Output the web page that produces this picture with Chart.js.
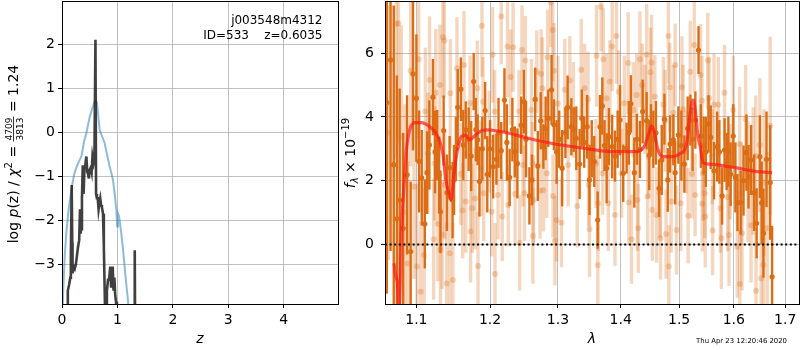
<!DOCTYPE html>
<html>
<head>
<meta charset="utf-8">
<script src="https://cdn.jsdelivr.net/npm/chart.js@4/dist/chart.umd.min.js"></script>
<style>
html, body { margin: 0; padding: 0; background: #fff; }
#wrap { position: relative; width: 800px; height: 350px; }
#pz { position: absolute; left: 0; top: 0; }
#spec { position: absolute; left: 340px; top: 0; }
</style>
</head>
<body>
<div id="wrap">
  <canvas id="pz" width="340" height="350"></canvas>
  <canvas id="spec" width="460" height="350"></canvas>
</div>
<script>
// ---- left panel: log p(z) ----
const zTicks = [0, 1, 2, 3, 4];
const lnpTicks = [-3, -2, -1, 0, 1, 2];

// black: log p(z)
const pzZ = [0.100,0.105,0.130,0.150,0.160,0.175,0.185,0.190,0.210,0.230,
  0.250,0.270,0.290,0.310,0.325,0.335,0.345,0.360,0.375,0.390,
  0.405,0.420,0.440,0.455,0.470,0.485,0.500,0.520,0.535,0.550,
  0.570,0.585,0.6035,0.615,0.630,0.645,0.660,0.675,0.690,0.705,
  0.720,0.740,0.755,0.770,0.785,0.800,0.810,0.830,0.850,0.870,
  0.885,0.900,0.915,0.930,0.945,0.960,0.975,0.990,1.300,1.310,
  1.315,1.320,1.330];
const pzLnp = [-4.5,-3.6,-3.45,-3.3,-2.8,-1.2,-2.5,-3.2,-3.05,-3.1,
  -3.0,-2.8,-2.6,-2.45,-1.75,-2.3,-2.2,-1.5,-0.75,-1.4,
  -0.8,-0.75,-0.55,-0.9,-0.95,-1.05,-0.85,-0.8,-0.9,-0.55,
  -0.7,-0.6,2.1,-1.4,-1.5,-1.5,-1.75,-1.6,-1.5,-1.65,
  -1.7,-1.85,-2.6,-3.6,-4.5,-4.5,-3.6,-3.35,-3.35,-3.05,
  -3.5,-3.3,-3.05,-3.6,-3.3,-3.7,-3.85,-4.5,-4.5,-4.5,
  -2.68,-4.5,-4.5];

// blue: chi2 curve
const chiZ = [0.0,0.02,0.05,0.08,0.12,0.17,0.22,0.26,0.31,0.35,
  0.40,0.44,0.50,0.55,0.59,0.63,0.66,0.68,0.73,0.77,
  0.82,0.86,0.92,0.96,0.98,0.995,1.01,1.03,1.07,1.10,
  1.13,1.16,1.19,1.22];
const chiVal = [-4.6,-3.66,-2.8,-2.25,-1.75,-1.3,-0.95,-0.8,-0.65,-0.55,
  -0.2,-0.02,0.35,0.55,0.70,0.68,0.3,0.05,-0.12,-0.25,
  -0.55,-0.78,-1.08,-1.5,-1.75,-2.14,-1.84,-1.9,-2.3,-2.65,
  -3.05,-3.45,-3.81,-4.4];

// ---- right panel: spectrum ----
const lamTicks = [1.1, 1.2, 1.3, 1.4, 1.5, 1.6, 1.7];
const fluxTicks = [0, 2, 4, 6];

const darkLam = [1.0623,1.0670,1.0710,1.0750,1.0785,1.0830,1.0880,1.0926,1.0956,1.1000,
  1.1035,1.1070,1.1110,1.1140,1.1170,1.1217,1.1245,1.1274,1.1300,1.1317,
  1.1360,1.1404,1.1440,1.1480,1.1500,1.1525,1.1550,1.1593,1.1626,1.1660,
  1.1700,1.1735,1.1770,1.1800,1.1825,1.1850,1.1890,1.1930,1.1960,1.2000,
  1.2043,1.2090,1.2120,1.2159,1.2205,1.2240,1.2280,1.2320,1.2355,1.2393,
  1.2449,1.2488,1.2520,1.2570,1.2607,1.2656,1.2695,1.2739,1.2779,1.2813,
  1.2853,1.2903,1.2939,1.2980,1.3020,1.3065,1.3116,1.3150,1.3208,1.3245,
  1.3285,1.3338,1.3373,1.3410,1.3457,1.3494,1.3530,1.3570,1.3625,1.3662,
  1.3700,1.3735,1.3770,1.3807,1.3860,1.3906,1.3950,1.3990,1.4042,1.4098,
  1.4135,1.4170,1.4227,1.4270,1.4322,1.4368,1.4436,1.4480,1.4510,1.4550,
  1.4595,1.4649,1.4695,1.4742,1.4800,1.4840,1.4898,1.4930,1.4986,1.5040,
  1.5093,1.5152,1.5200,1.5240,1.5290,1.5347,1.5390,1.5440,1.5480,1.5529,
  1.5570,1.5631,1.5689,1.5730,1.5780,1.5826,1.5865,1.5898,1.5940,1.5990,
  1.6030,1.6070,1.6130,1.6185,1.6240,1.6280,1.6330,1.6390,1.6437,1.6500,
  1.6535,1.6570,1.6630,1.6702,1.6740];
const darkFlux = [4.45,5.79,2.50,0.80,1.39,0.50,2.18,-0.23,5.35,4.59,
  2.60,2.09,0.64,2.25,3.12,4.62,2.90,3.12,2.18,1.02,
  3.57,1.62,2.40,1.39,2.02,3.00,4.30,4.87,3.12,3.59,
  3.30,2.77,5.11,3.60,3.28,1.97,3.00,4.20,2.20,3.00,
  2.44,2.67,3.50,2.94,4.53,3.20,2.10,3.60,2.90,2.54,
  3.74,4.48,3.30,1.52,2.02,4.55,2.46,3.88,3.07,3.64,
  3.96,4.85,3.75,2.90,3.30,2.39,3.51,4.30,3.69,3.60,
  3.33,2.52,3.96,3.20,3.69,2.02,3.00,2.60,0.76,3.69,
  4.34,3.10,2.39,3.38,3.07,2.77,3.30,3.90,2.23,3.02,
  3.50,4.41,2.25,3.30,2.98,4.17,3.88,2.80,3.60,3.30,
  3.50,1.76,2.65,3.93,2.02,3.15,3.28,2.25,3.43,3.10,
  2.52,3.64,3.90,3.30,3.90,6.10,3.40,3.10,2.90,3.78,
  3.36,2.31,3.07,2.90,1.52,2.96,2.60,2.91,2.20,3.40,
  2.10,1.31,1.31,2.00,2.88,2.12,2.65,1.62,0.66,2.75,
  1.30,0.35,2.67,1.94,-1.02];
const darkErr = [6.0,6.0,5.0,4.5,3.5,3.0,2.5,2.2,2.4,2.0,
  1.6,1.5,1.4,1.3,1.4,1.2,1.3,1.1,1.2,1.3,
  1.1,1.2,1.0,1.2,1.1,1.0,1.2,1.0,1.1,0.9,
  1.0,1.1,0.9,1.0,0.8,1.1,1.0,0.9,1.2,0.9,
  1.0,0.8,1.1,0.9,1.0,1.2,0.9,1.0,0.8,1.1,
  0.9,1.0,1.2,0.9,0.8,1.0,1.1,0.9,0.7,1.0,
  0.9,1.1,0.8,1.0,0.9,1.2,0.8,1.0,0.9,0.7,
  1.0,1.1,0.9,0.8,1.0,1.1,0.9,0.8,0.9,1.0,
  0.9,0.8,1.1,0.9,1.0,0.8,0.9,1.1,0.9,0.8,
  1.0,0.9,1.1,0.8,0.9,1.0,0.9,1.1,0.8,0.9,
  1.0,0.9,1.1,0.8,1.0,0.9,0.8,1.0,0.9,1.1,
  0.9,1.0,0.8,1.0,0.9,0.75,1.0,0.9,1.1,0.9,
  1.0,0.9,1.1,1.0,0.9,1.0,0.9,1.1,1.0,1.0,
  1.1,0.9,1.0,1.1,1.2,1.0,1.1,1.2,1.1,1.3,
  1.3,1.4,1.5,1.8,1.6];

const lightLam = [1.0640,1.0743,1.0770,1.0806,1.0850,1.0890,1.0926,1.0970,1.1008,1.1030,
  1.1056,1.1100,1.1117,1.1150,1.1173,1.1227,1.1240,1.1255,1.1283,1.1310,
  1.1317,1.1340,1.1349,1.1370,1.1375,1.1400,1.1443,1.1450,1.1485,1.1540,
  1.1593,1.1617,1.1636,1.1660,1.1720,1.1727,1.1750,1.1790,1.1820,1.1830,
  1.1870,1.1885,1.1900,1.1910,1.1988,1.2022,1.2035,1.2065,1.2070,1.2113,
  1.2159,1.2173,1.2249,1.2260,1.2295,1.2330,1.2360,1.2418,1.2427,1.2460,
  1.2475,1.2497,1.2510,1.2600,1.2615,1.2622,1.2630,1.2680,1.2729,1.2745,
  1.2765,1.2780,1.2830,1.2843,1.2890,1.2920,1.2925,1.2940,1.2954,1.2980,
  1.3000,1.3054,1.3107,1.3158,1.3184,1.3240,1.3300,1.3363,1.3416,1.3470,
  1.3480,1.3494,1.3596,1.3607,1.3627,1.3635,1.3680,1.3706,1.3716,1.3770,
  1.3797,1.3823,1.3860,1.3906,1.3930,1.3966,1.4015,1.4060,1.4124,1.4135,
  1.4180,1.4211,1.4266,1.4280,1.4293,1.4322,1.4360,1.4407,1.4436,1.4452,
  1.4470,1.4500,1.4520,1.4532,1.4577,1.4604,1.4660,1.4675,1.4724,1.4755,
  1.4770,1.4811,1.4820,1.4835,1.4860,1.4898,1.4930,1.4955,1.5030,1.5050,
  1.5070,1.5120,1.5160,1.5198,1.5227,1.5270,1.5285,1.5383,1.5410,1.5415,
  1.5430,1.5460,1.5470,1.5516,1.5540,1.5600,1.5605,1.5631,1.5710,1.5750,
  1.5768,1.5826,1.5886,1.5910,1.5930,1.5990,1.6066,1.6110,1.6115,1.6140,
  1.6155,1.6225,1.6270,1.6330,1.6370,1.6420,1.6425,1.6500,1.6525,1.6570,
  1.6580,1.6643,1.6702];
const lightFlux = [3.50,6.92,6.94,3.38,1.00,-0.60,5.45,1.81,-0.70,5.81,
  -1.49,-0.34,4.17,2.86,5.16,0.16,2.54,4.76,0.64,5.00,
  -0.16,0.30,6.50,6.40,1.86,-1.23,-0.28,4.74,-1.12,5.53,
  2.21,1.06,5.63,1.34,4.43,0.40,1.13,1.44,4.90,-0.68,
  2.39,6.86,4.48,1.60,3.22,1.02,5.95,4.17,-0.93,1.55,
  7.15,0.87,6.21,1.23,5.25,6.19,1.58,4.17,0.05,6.10,
  2.49,1.60,5.77,4.22,2.54,0.26,1.39,5.42,1.68,5.35,
  4.90,1.70,2.23,5.87,7.59,6.73,1.52,5.45,0.11,0.76,
  4.41,0.68,4.85,2.49,5.14,4.22,1.20,5.48,4.90,4.55,
  1.86,0.47,2.54,5.92,-0.65,1.29,7.46,2.23,5.81,4.59,
  1.29,5.11,6.21,0.92,6.54,4.79,2.23,4.43,5.69,1.31,
  0.16,4.22,4.69,1.39,0.50,5.81,5.00,4.24,5.95,1.50,
  2.75,5.40,5.71,1.08,4.64,0.92,1.60,0.19,4.38,3.88,
  0.32,6.54,-0.70,4.93,1.34,4.13,5.63,0.45,1.29,4.93,
  4.24,2.90,0.90,5.42,2.21,6.26,1.55,5.32,4.51,1.27,
  2.23,1.60,0.87,5.77,4.59,2.75,0.43,4.38,4.38,1.13,
  0.19,4.76,1.48,0.29,2.28,4.22,-0.08,3.15,-1.25,1.60,
  0.35,3.93,1.97,0.60,2.30,2.77,-1.46,3.12,-1.07,-0.65,
  1.94,0.50,3.72];
const lightErr = [4.0,4.2,3.8,3.5,3.4,3.2,3.0,2.9,2.6,2.5,
  2.2,2.1,2.0,1.9,2.0,1.9,1.8,2.0,1.8,1.9,
  1.8,1.7,1.9,1.8,1.7,1.9,1.8,1.7,1.8,1.6,
  1.6,1.5,1.7,1.6,1.5,1.6,1.4,1.6,1.5,1.7,
  1.5,1.6,1.4,1.5,1.6,1.4,1.5,1.3,1.6,1.4,
  1.5,1.4,1.6,1.3,1.5,1.4,1.6,1.3,1.5,1.4,
  1.3,1.5,1.4,1.6,1.3,1.5,1.4,1.3,1.5,1.4,
  1.6,1.3,1.4,1.5,1.4,1.6,1.3,1.5,1.4,1.3,
  1.5,1.4,1.6,1.3,1.4,1.5,1.3,1.6,1.4,1.5,
  1.3,1.5,1.4,1.6,1.3,1.5,1.4,1.3,1.6,1.4,
  1.5,1.3,1.4,1.6,1.5,1.3,1.4,1.5,1.6,1.3,
  1.4,1.5,1.3,1.6,1.4,1.5,1.3,1.4,1.6,1.5,
  1.3,1.4,1.5,1.6,1.3,1.5,1.4,1.3,1.5,1.6,
  1.4,1.5,1.3,1.4,1.6,1.5,1.3,1.4,1.5,1.6,
  1.4,1.3,1.5,1.6,1.4,1.5,1.3,1.6,1.4,1.5,
  1.5,1.4,1.6,1.5,1.3,1.5,1.4,1.6,1.5,1.4,
  1.6,1.5,1.7,1.6,1.5,1.7,1.6,1.8,1.7,1.6,
  1.8,1.7,1.9,1.8,2.0,1.9,2.0,2.1,2.2,2.1,
  2.3,2.4,2.8];

// best-fit model (red)
const modelLam = [1.0713,1.0735,1.0756,1.0765,1.0775,1.0785,1.0807,1.0840,1.0871,1.0913,
  1.0978,1.1065,1.1173,1.1283,1.1348,1.1390,1.1443,1.1460,1.1500,1.1547,
  1.1600,1.1660,1.1717,1.1770,1.1857,1.1950,1.2228,1.2460,1.2705,1.2950,
  1.3208,1.3520,1.3856,1.4124,1.4266,1.4407,1.4474,1.4520,1.4566,1.4630,
  1.4724,1.4868,1.5012,1.5134,1.5188,1.5247,1.5270,1.5347,1.5380,1.5430,
  1.5540,1.5716,1.5890,1.6085,1.6270,1.6450,1.6740];
const modelFlux = [-0.60,-1.00,-1.23,-1.60,-2.10,-1.90,0.35,1.81,2.96,3.59,
  3.82,3.82,3.69,3.38,2.86,2.02,1.50,1.40,2.23,2.96,
  3.38,3.43,3.28,3.38,3.54,3.59,3.51,3.38,3.25,3.15,
  3.07,2.98,2.91,2.91,2.91,3.12,3.49,3.72,3.54,2.96,
  2.75,2.75,2.84,3.17,4.01,4.53,4.45,3.28,3.07,2.56,
  2.52,2.49,2.44,2.39,2.33,2.28,2.25];

// ---- styling ----
const FONT = "'DejaVu Sans', sans-serif";
const GRID = '#b0b0b0';
const ORANGE = '#dc6d14';
const ORANGE_LIGHT = 'rgba(217,105,15,0.27)';

Chart.defaults.font.family = FONT;
Chart.defaults.color = '#000';

const minus = v => String(v).replace('-', '\u2212');

function pts(xs, ys) {
  return xs.map((x, i) => ({ x: x, y: ys[i] }));
}

function axis(min, max, ticks, opts) {
  return Object.assign({
    min: min, max: max,
    afterBuildTicks: s => { s.ticks = ticks.map(v => ({ value: v })); },
    grid: { color: GRID, lineWidth: 0.8, tickColor: '#000', tickLength: 4, tickWidth: 1 },
    border: { display: false },
    ticks: { font: { size: 14 }, color: '#000', maxRotation: 0, autoSkip: false }
  }, opts);
}

// draws a label made of pieces (italic, sub/superscript, fraction)
function drawParts(ctx, cx, cy, parts, rotate) {
  ctx.save();
  ctx.translate(cx, cy);
  if (rotate) ctx.rotate(-Math.PI / 2);
  ctx.fillStyle = '#000';
  ctx.textBaseline = 'alphabetic';
  ctx.textAlign = 'left';
  const widths = parts.map(p => {
    ctx.font = p.font;
    if (p.frac) return Math.max(...p.frac.map(s => ctx.measureText(s).width)) + 2;
    return ctx.measureText(p.t).width;
  });
  let x = -widths.reduce((a, b) => a + b, 0) / 2;
  parts.forEach((p, i) => {
    ctx.font = p.font;
    if (p.frac) {
      const w = widths[i];
      ctx.textAlign = 'center';
      ctx.fillText(p.frac[0], x + w / 2, -6);
      ctx.fillText(p.frac[1], x + w / 2, 5);
      ctx.fillRect(x, -4.8, w, 0.8);
      ctx.textAlign = 'left';
    } else {
      ctx.fillText(p.t, x, p.dy || 0);
    }
    x += widths[i];
  });
  ctx.restore();
}

function frameBox(chart) {
  const a = chart.chartArea, ctx = chart.ctx;
  ctx.save();
  ctx.strokeStyle = '#000';
  ctx.lineWidth = 1;
  ctx.strokeRect(a.left + 0.5, a.top + 0.5, a.right - a.left, a.bottom - a.top);
  ctx.restore();
}

// error bars, drawn just before each dataset's points
const errorBars = {
  id: 'errorBars',
  beforeDatasetDraw(chart, args) {
    const ds = chart.data.datasets[args.index];
    if (!ds.errors) return;
    const xs = chart.scales.x, ys = chart.scales.y, a = chart.chartArea, ctx = chart.ctx;
    ctx.save();
    ctx.beginPath();
    ctx.rect(a.left, a.top, a.right - a.left, a.bottom - a.top);
    ctx.clip();
    ctx.strokeStyle = ds.errColor;
    ctx.lineWidth = ds.errWidth;
    ds.data.forEach((p, i) => {
      const px = xs.getPixelForValue(p.x);
      ctx.beginPath();
      ctx.moveTo(px, ys.getPixelForValue(p.y - ds.errors[i]));
      ctx.lineTo(px, ys.getPixelForValue(p.y + ds.errors[i]));
      ctx.stroke();
    });
    ctx.restore();
  }
};

// ---- left chart ----
new Chart(document.getElementById('pz'), {
  type: 'scatter',
  data: {
    datasets: [
      { data: pts(pzZ, pzLnp), showLine: true, pointRadius: 0, borderColor: 'rgba(30,30,30,0.85)',
        borderWidth: 2.6, clip: 0, order: 0 },
      { data: pts(chiZ, chiVal), showLine: true, pointRadius: 0, borderColor: 'rgba(31,119,180,0.5)',
        borderWidth: 2, clip: 0, order: 1 }
    ]
  },
  options: {
    responsive: false, animation: false, devicePixelRatio: 1,
    layout: { padding: { top: 1, right: 2, left: 0, bottom: 0 }, autoPadding: false },
    plugins: { legend: { display: false }, tooltip: { enabled: false } },
    scales: {
      x: axis(0, 4.98, zTicks, {
        type: 'linear',
        afterFit: s => { s.height = 46; s.paddingLeft = 0; s.paddingRight = 0; },
        ticks: { font: { size: 14 }, color: '#000', padding: 4, maxRotation: 0, autoSkip: false,
          callback: v => minus(v) }
      }),
      y: axis(-3.9, 2.98, lnpTicks, {
        type: 'linear',
        afterFit: s => { s.width = 62; s.paddingTop = 0; s.paddingBottom = 0; },
        ticks: { font: { size: 14 }, color: '#000', padding: 3, autoSkip: false,
          callback: v => minus(v) }
      })
    }
  },
  plugins: [{
    id: 'pzText',
    afterDraw(chart) {
      const ctx = chart.ctx;
      frameBox(chart);
      ctx.save();
      ctx.fillStyle = '#000';
      ctx.font = '12px ' + FONT;
      ctx.textAlign = 'right';
      ctx.fillText('j003548m4312', 322.5, 24);
      ctx.fillText('ID=533    z=0.6035', 322.5, 38.5);
      ctx.font = 'italic 14px ' + FONT;
      ctx.textAlign = 'center';
      ctx.fillText('z', 200, 343);
      ctx.restore();
      const n = '14px ' + FONT, it = 'italic 14px ' + FONT;
      drawParts(ctx, 18, 154, [
        { t: 'log ', font: n },
        { t: 'p', font: it },
        { t: '(z) / ', font: n },
        { t: '\u03c7', font: it },
        { t: '2', font: '10px ' + FONT, dy: -6 },
        { t: ' = ', font: n },
        { frac: ['4709', '3813'], font: '9px ' + FONT },
        { t: ' = 1.24', font: n }
      ], true);
    }
  }]
});

// ---- right chart ----
new Chart(document.getElementById('spec'), {
  type: 'scatter',
  data: {
    datasets: [
      { data: pts(modelLam, modelFlux), showLine: true, pointRadius: 0, borderColor: 'rgba(255,20,20,0.68)',
        borderWidth: 3.2, cubicInterpolationMode: 'monotone', clip: 0, order: 0 },
      { data: pts(darkLam, darkFlux), pointRadius: 2.6, backgroundColor: ORANGE, borderWidth: 0,
        errors: darkErr, errColor: ORANGE, errWidth: 2.4, clip: 0, order: 1 },
      { data: pts(lightLam, lightFlux), pointRadius: 3, backgroundColor: ORANGE_LIGHT, borderWidth: 0,
        errors: lightErr, errColor: ORANGE_LIGHT, errWidth: 3.4, clip: 0, order: 2 }
    ]
  },
  options: {
    responsive: false, animation: false, devicePixelRatio: 1,
    layout: { padding: { top: 1, right: 1, left: 0, bottom: 0 }, autoPadding: false },
    plugins: { legend: { display: false }, tooltip: { enabled: false } },
    scales: {
      x: axis(1.06, 1.728, lamTicks, {
        type: 'logarithmic',
        afterFit: s => { s.height = 46; s.paddingLeft = 0; s.paddingRight = 0; },
        ticks: { font: { size: 14 }, color: '#000', padding: 4, maxRotation: 0, autoSkip: false,
          callback: v => Number(v).toFixed(1) }
      }),
      y: axis(-1.875, 7.64, fluxTicks, {
        type: 'linear',
        afterFit: s => { s.width = 45; s.paddingTop = 0; s.paddingBottom = 0; },
        ticks: { font: { size: 14 }, color: '#000', padding: 7, autoSkip: false,
          callback: v => minus(v) }
      })
    }
  },
  plugins: [errorBars, {
    id: 'specText',
    afterDatasetsDraw(chart) {
      const a = chart.chartArea, ctx = chart.ctx;
      const y0 = Math.round(chart.scales.y.getPixelForValue(0)) + 0.5;
      ctx.save();
      ctx.strokeStyle = '#000';
      ctx.lineWidth = 2;
      ctx.setLineDash([2, 2.6]);
      ctx.beginPath();
      ctx.moveTo(a.left, y0);
      ctx.lineTo(a.right, y0);
      ctx.stroke();
      ctx.restore();
    },
    afterDraw(chart) {
      const ctx = chart.ctx;
      frameBox(chart);
      ctx.save();
      ctx.fillStyle = '#000';
      ctx.font = 'italic 14px ' + FONT;
      ctx.textAlign = 'center';
      ctx.fillText('\u03bb', 252, 343);
      ctx.font = '6.9px ' + FONT;
      ctx.textAlign = 'right';
      ctx.fillText('Thu Apr 23 12:20:46 2020', 447, 342.5);
      ctx.restore();
      drawParts(ctx, 15, 153, [
        { t: 'f', font: 'italic 14px ' + FONT },
        { t: '\u03bb', font: 'italic 10px ' + FONT, dy: 3 },
        { t: ' \u00d7 10', font: '14px ' + FONT },
        { t: '\u221219', font: '10px ' + FONT, dy: -6 }
      ], true);
    }
  }]
});
</script>
</body>
</html>
